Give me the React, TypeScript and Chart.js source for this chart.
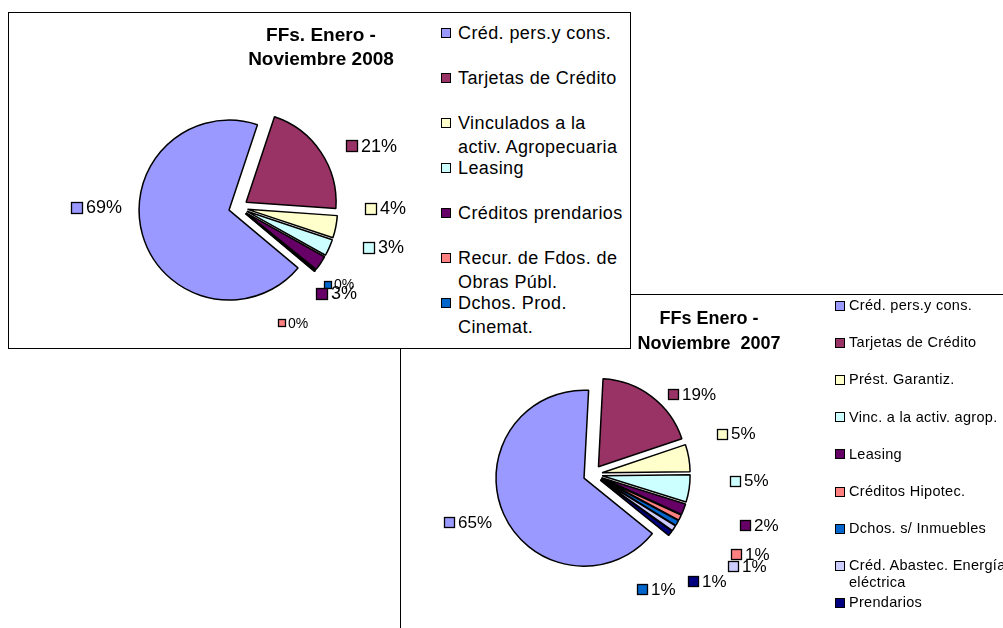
import React, { useEffect, useRef } from 'react';
import { Chart, registerables } from 'chart.js';

Chart.register(...registerables);

// ---------- Data: FFs Enero - Noviembre 2008 ----------
const title2008 = ['FFs. Enero -', 'Noviembre 2008'];
const categories2008 = [
  'Créd. pers.y cons.',
  'Tarjetas de Crédito',
  'Vinculados a la activ. Agropecuaria',
  'Leasing',
  'Créditos prendarios',
  'Recur. de Fdos. de Obras Públ.',
  'Dchos. Prod. Cinemat.',
];
const values2008 = [69, 21, 4, 3, 2.7, 0.2, 0.1];
const colors2008 = ['#9999FF', '#993366', '#FFFFCC', '#CCFFFF', '#660066', '#FF8080', '#0066CC'];

// ---------- Data: FFs Enero - Noviembre 2007 ----------
const title2007 = ['FFs Enero -', 'Noviembre  2007'];
const categories2007 = [
  'Créd. pers.y cons.',
  'Tarjetas de Crédito',
  'Prést. Garantiz.',
  'Vinc. a la activ. agrop.',
  'Leasing',
  'Créditos Hipotec.',
  'Dchos. s/ Inmuebles',
  'Créd. Abastec. Energía eléctrica',
  'Prendarios',
];
const values2007 = [65, 19, 5, 5, 2, 1, 1, 1, 1];
const colors2007 = ['#9999FF', '#993366', '#FFFFCC', '#CCFFFF', '#660066', '#FF8080', '#0066CC', '#CCCCFF', '#000080'];

// ---------- Label placement (polar, relative to pie centre; distance in radii) ----------
const labelAngle2008 = [270.2, 65.2, 90.2, 105.3, 131, 154.6, 127.2];
const labelDist2008 = [1.57, 1.63, 1.64, 1.67, 1.45, 1.42, 1.41];
const labelFont2008 = [18, 18, 18, 18, 18, 14, 14];
const labelKey2008 = [11, 11, 11, 11, 11, 7, 7];

const labelAngle2007 = [249.1, 51, 74.2, 92.3, 106.9, 116.8, 150.9, 120.7, 132.9];
const labelDist2007 = [1.52, 1.45, 1.69, 1.78, 1.98, 2.01, 1.49, 2.04, 1.78];
const labelFont2007 = [17, 17, 17, 17, 17, 17, 17, 17, 17];
const labelKey2007 = [10, 10, 10, 10, 10, 10, 10, 10, 10];

const FONT = '"Liberation Sans", Arial, Helvetica, sans-serif';

const explodePlugin = {
  id: 'explodeSlices',
  beforeDatasetDraw(chart: any, args: any, opts: any) {
    const ctx = chart.ctx;
    const dist = opts.distance || 0;
    args.meta.data.forEach((arc: any) => {
      const half = (arc.startAngle + arc.endAngle) / 2;
      ctx.save();
      ctx.translate(Math.cos(half) * dist, Math.sin(half) * dist);
      arc.draw(ctx);
      ctx.restore();
    });
    return false;
  },
};

const labelPlugin = {
  id: 'sliceLabels',
  afterDatasetsDraw(chart: any, _args: any, opts: any) {
    const ctx = chart.ctx;
    const meta = chart.getDatasetMeta(0);
    const ds = chart.data.datasets[0];
    const data: number[] = ds.data;
    const total = data.reduce((a, b) => a + b, 0);
    const order = opts.order || data.map((_: any, i: number) => i);
    order.forEach((i: number) => {
      const arc = meta.data[i];
      const { x, y, outerRadius } = arc.getProps(['x', 'y', 'outerRadius'], true);
      const ang = (opts.angles[i] * Math.PI) / 180;
      const d = opts.dists[i] * outerRadius;
      const cx = x + Math.sin(ang) * d;
      const cy = y - Math.cos(ang) * d;
      const text = Math.round((data[i] / total) * 100) + '%';
      const fs = opts.fonts[i];
      const ks = opts.keys[i];
      ctx.save();
      ctx.font = `${fs}px ${FONT}`;
      const tw = ctx.measureText(text).width;
      const gap = Math.round(fs * 0.22);
      const w = ks + gap + tw;
      const left = Math.round(cx - w / 2);
      const top = Math.round(cy - ks / 2);
      ctx.fillStyle = ds.backgroundColor[i];
      ctx.fillRect(left + 0.5, top + 0.5, ks, ks);
      ctx.strokeStyle = '#000';
      ctx.lineWidth = 1.3;
      ctx.strokeRect(left + 0.5, top + 0.5, ks, ks);
      ctx.fillStyle = '#000';
      ctx.textBaseline = 'middle';
      ctx.textAlign = 'left';
      ctx.fillText(text, left + ks + gap, cy + 1);
      ctx.restore();
    });
  },
};

type PieProps = {
  values: number[];
  colors: string[];
  categories: string[];
  rotation: number;
  radius: number;
  explode: number;
  left: number;
  top: number;
  width: number;
  height: number;
  cx: number;
  cy: number;
  angles: number[];
  dists: number[];
  fonts: number[];
  keys: number[];
  order?: number[];
};

function Pie(p: PieProps) {
  const ref = useRef<HTMLCanvasElement>(null);
  useEffect(() => {
    if (!ref.current) return;
    const lx = p.cx - p.left;
    const ly = p.cy - p.top;
    const padL = 2 * lx > p.width ? 2 * lx - p.width : 0;
    const padR = 2 * lx > p.width ? 0 : p.width - 2 * lx;
    const padT = 2 * ly > p.height ? 2 * ly - p.height : 0;
    const padB = 2 * ly > p.height ? 0 : p.height - 2 * ly;
    const chart = new Chart(ref.current, {
      type: 'pie',
      data: {
        labels: p.categories,
        datasets: [
          {
            data: p.values,
            backgroundColor: p.colors,
            borderColor: '#000000',
            borderWidth: 1.5,
          },
        ],
      },
      options: {
        animation: false,
        responsive: false,
        maintainAspectRatio: false,
        rotation: p.rotation,
        radius: p.radius,
        layout: { padding: { left: padL, right: padR, top: padT, bottom: padB } },
        events: [],
        plugins: {
          legend: { display: false },
          tooltip: { enabled: false },
          title: { display: false },
          explodeSlices: { distance: p.explode },
          sliceLabels: { angles: p.angles, dists: p.dists, fonts: p.fonts, keys: p.keys, order: p.order },
        } as any,
      } as any,
      plugins: [explodePlugin, labelPlugin],
    });
    return () => chart.destroy();
  }, []);
  return (
    <canvas
      ref={ref}
      width={p.width}
      height={p.height}
      style={{ position: 'absolute', left: p.left, top: p.top, width: p.width, height: p.height }}
    />
  );
}

function Legend(props: {
  items: string[];
  colors: string[];
  keyLeft: number;
  textLeft: number;
  firstY: number;
  step: number;
  lineH: number;
  fontSize: number;
  textWidth: number;
  keySize: number;
  spacing: number;
}) {
  const { items, colors, keyLeft, textLeft, firstY, step, lineH, fontSize, textWidth, keySize, spacing } = props;
  return (
    <>
      {items.map((t, i) => {
        const top = firstY - lineH / 2 + i * step;
        return (
          <div key={i} style={{ position: 'absolute', left: keyLeft, top, height: lineH }}>
            <div
              style={{
                position: 'absolute',
                left: 0,
                top: (lineH - keySize) / 2,
                width: keySize,
                height: keySize,
                boxSizing: 'border-box',
                border: '1px solid #000',
                background: colors[i],
              }}
            />
            <div
              style={{
                position: 'absolute',
                left: textLeft - keyLeft,
                top: 0,
                width: textWidth,
                fontFamily: FONT,
                fontSize,
                letterSpacing: spacing,
                lineHeight: lineH + 'px',
                color: '#000',
                whiteSpace: 'normal',
              }}
            >
              {t}
            </div>
          </div>
        );
      })}
    </>
  );
}

function Title(props: { lines: string[]; cx: number; firstY: number; lineH: number; fontSize: number }) {
  const { lines, cx, firstY, lineH, fontSize } = props;
  return (
    <div
      style={{
        position: 'absolute',
        left: cx - 120,
        width: 240,
        top: firstY - lineH / 2,
        textAlign: 'center',
        fontFamily: FONT,
        fontWeight: 'bold',
        fontSize,
        lineHeight: lineH + 'px',
        whiteSpace: 'pre',
        color: '#000',
      }}
    >
      {lines.map((l, i) => (
        <div key={i}>{l}</div>
      ))}
    </div>
  );
}

export default function App() {
  return (
    <div style={{ position: 'absolute', left: 0, top: 0, width: 1003, height: 628, overflow: 'hidden', background: '#fff' }}>
      {/* 2007 chart box (behind) */}
      <div
        style={{
          position: 'absolute',
          left: 400,
          top: 294,
          width: 700,
          height: 400,
          boxSizing: 'border-box',
          border: '1px solid #000',
          background: '#fff',
        }}
      />
      <Pie
        values={values2007}
        colors={colors2007}
        categories={categories2007}
        rotation={129}
        radius={88}
        explode={9.5}
        left={401}
        top={295}
        width={602}
        height={333}
        cx={592.7}
        cy={474.3}
        angles={labelAngle2007}
        dists={labelDist2007}
        fonts={labelFont2007}
        keys={labelKey2007}
      />
      <Title lines={title2007} cx={709} firstY={318} lineH={25} fontSize={18} />
      <Legend
        items={categories2007}
        colors={colors2007}
        keyLeft={835}
        textLeft={849}
        firstY={306}
        step={37.1}
        lineH={17.5}
        fontSize={14.5}
        textWidth={168}
        keySize={10}
        spacing={0.3}
      />

      {/* 2008 chart box (front) */}
      <div
        style={{
          position: 'absolute',
          left: 8,
          top: 12,
          width: 623,
          height: 337,
          boxSizing: 'border-box',
          border: '1px solid #000',
          background: '#fff',
        }}
      />
      <Pie
        values={values2008}
        colors={colors2008}
        categories={categories2008}
        rotation={130}
        radius={90}
        explode={9.5}
        left={9}
        top={13}
        width={431}
        height={335}
        cx={238.2}
        cy={207.5}
        angles={labelAngle2008}
        dists={labelDist2008}
        fonts={labelFont2008}
        keys={labelKey2008}
        order={[0, 1, 2, 3, 6, 5, 4]}
      />
      <Title lines={title2008} cx={321} firstY={35} lineH={24} fontSize={19} />
      <Legend
        items={categories2008}
        colors={colors2008}
        keyLeft={441}
        textLeft={458}
        firstY={33}
        step={45}
        lineH={24}
        fontSize={18}
        textWidth={170}
        keySize={10}
        spacing={0.4}
      />
    </div>
  );
}
